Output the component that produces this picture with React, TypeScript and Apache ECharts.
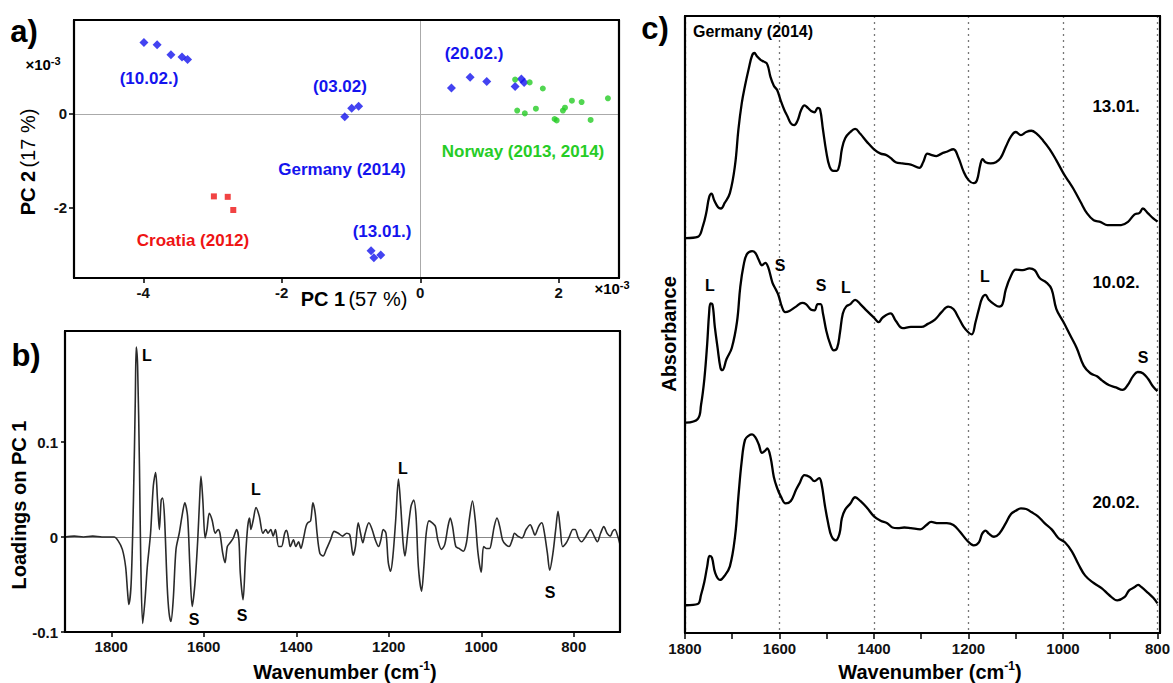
import React, { useEffect, useRef } from "react";
import * as echarts from "echarts";

// ---------- Panel a: PCA scores (x10^-3) ----------
const germanyPoints: number[][] = [
  [-3.99, 1.52], [-3.8, 1.47], [-3.6, 1.26], [-3.44, 1.21], [-3.36, 1.16],
  [-1.09, -0.06], [-0.99, 0.12], [-0.89, 0.16],
  [-0.71, -2.92], [-0.67, -3.07], [-0.57, -3.01],
  [0.45, 0.55], [0.72, 0.78], [0.96, 0.69], [1.37, 0.58], [1.46, 0.74], [1.5, 0.67],
];
const norwayPoints: number[][] = [
  [1.37, 0.73], [1.58, 0.67], [1.77, 0.54], [1.4, 0.07], [1.51, 0.01], [1.67, 0.11],
  [1.94, -0.11], [1.97, -0.14], [2.06, 0.07], [2.09, 0.13], [2.19, 0.28], [2.33, 0.25],
  [2.46, -0.13], [2.71, 0.33],
];
const croatiaPoints: number[][] = [
  [-2.98, -1.76], [-2.78, -1.77], [-2.7, -2.05],
];
const pcaXRange = [-5, 2.87];
const pcaYRange = [-3.5, 2];
const pcaXTicks = [-4, -2, 0, 2];
const pcaYTicks = [-2, 0];

// ---------- Panel b: loadings on PC 1 ----------
const loadingsPC1: number[][] = [
  [1900, 0.0], [1880, 0.001], [1860, 0.0], [1840, 0.001], [1820, 0.0], [1794, 0.0], [1785, -0.004],
  [1776, -0.013], [1769, -0.031], [1765, -0.056], [1762, -0.071], [1757, -0.049], [1752, 0.039],
  [1748, 0.145], [1746, 0.2], [1743, 0.18], [1739, 0.075], [1736, -0.031], [1732, -0.091],
  [1727, -0.066], [1722, -0.031], [1715, 0.004], [1709, 0.054], [1704, 0.068], [1700, 0.039],
  [1696, 0.008], [1692, 0.039], [1689, 0.041], [1685, 0.022], [1679, -0.052], [1675, -0.08],
  [1671, -0.089], [1666, -0.066], [1660, -0.013], [1653, 0.004], [1647, 0.022], [1641, 0.036],
  [1635, 0.022], [1630, -0.031], [1625, -0.073], [1619, -0.049], [1613, -0.003], [1609, 0.039],
  [1606, 0.064], [1602, 0.039], [1597, -0.001], [1593, 0.008], [1588, 0.025], [1582, 0.018],
  [1575, 0.004], [1569, 0.008], [1565, 0.004], [1559, -0.017], [1554, -0.027], [1549, -0.01],
  [1543, -0.006], [1536, -0.001], [1529, 0.008], [1524, -0.003], [1521, -0.038], [1515, -0.066],
  [1510, -0.024], [1505, 0.011], [1501, 0.02], [1498, 0.008], [1493, 0.018], [1487, 0.031],
  [1480, 0.022], [1472, 0.004], [1466, 0.008], [1461, 0.004], [1455, 0.008], [1450, 0.001],
  [1445, 0.008], [1438, -0.01], [1432, -0.01], [1425, 0.004], [1421, 0.007], [1416, -0.003],
  [1413, -0.01], [1406, -0.003], [1401, -0.01], [1395, -0.005], [1390, -0.012], [1385, -0.003],
  [1379, 0.011], [1375, 0.015], [1369, 0.017], [1364, 0.036], [1359, 0.025], [1355, 0.004],
  [1349, -0.017], [1342, -0.02], [1335, -0.013], [1326, -0.003], [1318, 0.006], [1309, 0.004],
  [1300, 0.001], [1291, 0.004], [1284, 0.002], [1277, -0.019], [1272, -0.01], [1266, 0.015],
  [1261, 0.004], [1256, -0.006], [1251, 0.004], [1243, 0.015], [1236, 0.008], [1229, -0.003],
  [1222, -0.01], [1217, -0.003], [1212, 0.008], [1206, 0.004], [1201, -0.027], [1196, -0.036],
  [1191, -0.02], [1185, 0.018], [1179, 0.061], [1174, 0.032], [1169, -0.006], [1165, -0.02],
  [1159, 0.004], [1152, 0.032], [1146, 0.039], [1141, 0.022], [1136, -0.031], [1129, -0.057],
  [1124, -0.031], [1119, 0.004], [1113, 0.017], [1106, 0.015], [1099, 0.011], [1094, -0.003],
  [1086, -0.013], [1079, -0.008], [1072, 0.011], [1067, 0.02], [1062, 0.011], [1055, -0.01],
  [1048, -0.012], [1039, -0.015], [1032, -0.006], [1026, 0.018], [1019, 0.038], [1013, 0.018],
  [1007, -0.017], [1000, -0.037], [995, -0.01], [989, -0.012], [982, -0.012], [977, -0.003],
  [972, 0.011], [966, 0.02], [960, 0.011], [954, -0.003], [947, -0.008], [940, -0.01],
  [933, -0.003], [928, 0.004], [921, 0.001], [912, -0.001], [903, 0.008], [894, 0.013],
  [889, 0.008], [884, 0.002], [876, 0.011], [869, 0.015], [864, 0.006], [857, -0.017],
  [852, -0.035], [845, -0.017], [839, 0.008], [834, 0.027], [829, 0.008], [824, -0.01],
  [816, -0.006], [809, 0.001], [802, 0.008], [797, 0.008], [790, -0.001], [783, -0.005],
  [776, -0.001], [770, 0.004], [764, 0.008], [756, 0.001], [749, -0.005], [742, 0.004],
  [735, 0.011], [728, 0.004], [721, 0.001], [716, 0.006], [711, 0.008], [705, 0.001], [700, -0.008],
];
const loadingXRange = [700, 1900];
const loadingYRange = [-0.1, 0.217];
const loadingXTicks = [800, 1000, 1200, 1400, 1600, 1800];
const loadingYTicks = [-0.1, 0, 0.1];

// ---------- Panel c: offset absorbance spectra (arb. units) ----------
const spectrum1301: number[][] = [
  [1798, 64.0], [1773, 64.2], [1762, 66.0], [1755, 68.1], [1749, 70.6], [1744, 71.2], [1738, 70.1],
  [1730, 69.0], [1724, 68.8], [1716, 69.7], [1705, 71.3], [1694, 75.9], [1687, 81.6], [1680, 85.8],
  [1673, 88.7], [1665, 91.5], [1658, 93.6], [1653, 94.0], [1648, 93.5], [1640, 92.9], [1633, 92.6],
  [1626, 92.2], [1619, 90.1], [1612, 88.7], [1605, 88.0], [1597, 86.2], [1590, 84.8], [1583, 83.7],
  [1576, 82.6], [1569, 82.3], [1562, 83.0], [1554, 84.8], [1547, 85.5], [1540, 85.1], [1533, 84.6],
  [1526, 84.4], [1519, 85.1], [1514, 84.8], [1508, 81.6], [1501, 78.0], [1494, 75.6], [1486, 74.9],
  [1479, 74.9], [1473, 75.9], [1468, 78.4], [1461, 80.2], [1450, 81.2], [1440, 81.7], [1429, 80.9],
  [1415, 79.6], [1400, 78.4], [1386, 77.7], [1375, 77.5], [1365, 77.0], [1354, 76.3], [1340, 76.1],
  [1322, 75.9], [1304, 75.4], [1296, 76.3], [1287, 77.7], [1279, 77.5], [1268, 77.3], [1257, 77.7],
  [1246, 78.0], [1232, 78.4], [1221, 77.0], [1211, 74.9], [1200, 73.4], [1189, 72.9], [1182, 73.4],
  [1175, 75.9], [1170, 76.8], [1164, 76.3], [1153, 76.1], [1142, 76.3], [1132, 77.0], [1121, 78.8],
  [1110, 80.5], [1100, 81.2], [1089, 80.7], [1078, 81.2], [1067, 81.4], [1057, 81.0], [1042, 79.8],
  [1028, 78.4], [1014, 76.6], [999, 74.5], [988, 73.2], [978, 72.0], [963, 69.9], [949, 68.0],
  [935, 66.9], [920, 66.6], [906, 66.1], [892, 66.1], [877, 66.1], [863, 66.6], [849, 67.8],
  [838, 68.1], [831, 68.8], [820, 68.0], [809, 67.2], [800, 66.7],
];
const spectrum1002: number[][] = [
  [1798, 34.1], [1773, 34.7], [1766, 37.0], [1759, 41.2], [1753, 46.9], [1749, 51.8], [1746, 53.4],
  [1742, 53.3], [1737, 49.7], [1731, 46.2], [1725, 43.0], [1721, 42.6], [1712, 44.4], [1701, 46.2],
  [1690, 50.4], [1683, 56.1], [1676, 59.6], [1669, 61.4], [1658, 61.9], [1651, 61.6], [1644, 60.5],
  [1637, 59.6], [1630, 60.0], [1624, 59.3], [1615, 56.8], [1608, 55.7], [1602, 54.7], [1595, 52.9],
  [1588, 52.0], [1579, 52.2], [1565, 52.9], [1552, 53.5], [1544, 53.3], [1533, 52.4], [1526, 52.3],
  [1519, 53.3], [1513, 53.3], [1508, 51.8], [1501, 49.0], [1493, 46.9], [1485, 45.8], [1478, 46.2],
  [1472, 48.7], [1466, 51.8], [1459, 52.9], [1450, 53.3], [1440, 54.0], [1429, 53.3], [1415, 52.2],
  [1400, 51.1], [1390, 50.4], [1382, 51.1], [1365, 51.8], [1354, 50.6], [1339, 49.4], [1322, 49.6],
  [1300, 49.6], [1286, 50.1], [1271, 50.8], [1257, 52.0], [1243, 52.9], [1232, 52.5], [1221, 51.1],
  [1211, 49.7], [1200, 48.7], [1193, 48.4], [1185, 50.4], [1178, 52.5], [1171, 54.3], [1164, 54.8],
  [1157, 54.0], [1146, 53.3], [1135, 52.9], [1128, 53.3], [1121, 55.7], [1110, 57.9], [1100, 58.9],
  [1085, 58.8], [1071, 59.1], [1060, 58.8], [1049, 57.5], [1035, 56.8], [1024, 55.7], [1014, 52.5],
  [999, 50.4], [985, 48.3], [971, 46.2], [956, 43.3], [942, 42.1], [928, 41.6], [917, 40.9],
  [903, 40.2], [888, 39.8], [874, 39.4], [863, 40.2], [852, 41.6], [842, 42.3], [831, 42.1],
  [820, 41.2], [809, 39.9], [800, 39.2],
];
const spectrum2002: number[][] = [
  [1798, 4.5], [1773, 4.7], [1766, 6.2], [1759, 8.3], [1753, 10.8], [1748, 12.5], [1743, 12.2],
  [1736, 9.7], [1726, 8.6], [1717, 9.2], [1705, 10.8], [1694, 15.7], [1687, 22.1], [1680, 27.8],
  [1673, 31.3], [1665, 32.0], [1658, 32.2], [1651, 31.7], [1644, 30.6], [1637, 29.2], [1631, 29.5],
  [1626, 29.9], [1619, 28.5], [1612, 25.3], [1605, 23.5], [1597, 22.1], [1587, 21.0], [1576, 21.4],
  [1565, 23.2], [1558, 24.2], [1547, 25.6], [1536, 25.3], [1526, 24.6], [1516, 25.1], [1511, 24.2],
  [1504, 20.7], [1497, 17.8], [1490, 15.7], [1481, 15.0], [1473, 16.1], [1468, 18.6], [1461, 20.0],
  [1450, 21.0], [1440, 22.0], [1429, 21.4], [1415, 20.3], [1400, 18.9], [1386, 18.2], [1372, 17.8],
  [1361, 17.1], [1350, 17.0], [1336, 17.1], [1322, 17.0], [1302, 16.8], [1289, 17.5], [1279, 18.0],
  [1264, 17.8], [1246, 17.8], [1232, 17.5], [1218, 16.4], [1203, 15.0], [1189, 14.2], [1178, 14.7],
  [1171, 16.1], [1164, 16.6], [1157, 16.1], [1146, 15.6], [1135, 16.1], [1121, 17.8], [1110, 19.3],
  [1100, 19.8], [1089, 20.2], [1078, 20.1], [1067, 19.6], [1053, 18.9], [1039, 17.8], [1024, 16.8],
  [1010, 15.4], [996, 14.7], [981, 13.2], [967, 11.1], [953, 9.3], [935, 8.1], [917, 7.2],
  [903, 6.2], [885, 5.3], [870, 5.8], [860, 6.9], [849, 7.4], [841, 7.8], [835, 7.5], [820, 6.5],
  [809, 5.7], [800, 4.8],
];
const specXRange = [800, 1800];
const specYRange = [0, 100];

const FONT = "Liberation Sans, Arial, sans-serif";
const BLUE = "#1414ee";
const GREEN = "#26cc26";
const RED = "#ee1414";
const INK = "#000";

// plot frames: left, top, width, height
const frameA = [74, 20, 545, 258];
const frameB = [65, 331, 555, 301];
const frameC = [685, 16, 475, 617];

function txt(x: number, y: number, text: string, size: number, color = INK, weight = "bold", align = "center") {
  return {
    type: "text", x, y, z: 20,
    style: { text, fill: color, fontSize: size, fontWeight: weight, fontFamily: FONT, align, verticalAlign: "middle" },
  };
}

function richTxt(x: number, y: number, text: string, rich: any, rotation = 0) {
  return {
    type: "text", x, y, rotation, z: 20,
    style: { text, rich, fill: INK, fontFamily: FONT, align: "center", verticalAlign: "middle" },
  };
}

// four separate line elements per frame
function frameLines(f: number[]) {
  const [l, t, w, h] = f;
  const r = l + w;
  const b = t + h;
  const seg = (x1: number, y1: number, x2: number, y2: number) => ({
    type: "line",
    z: 30,
    shape: { x1, y1, x2, y2 },
    style: { stroke: "#000", lineWidth: 2.2 },
  });
  return [seg(l - 1, t, r + 1, t), seg(r, t, r, b), seg(r + 1, b, l - 1, b), seg(l, b, l, t)];
}

const gridOf = (f: number[]) => ({ left: f[0], top: f[1], width: f[2], height: f[3] });

const axisNameRich = {
  b: { fontSize: 20, fontWeight: "bold", fontFamily: FONT, color: INK, lineHeight: 24 },
  n: { fontSize: 20, fontWeight: "normal", fontFamily: FONT, color: INK, lineHeight: 24 },
  s: { fontSize: 12, fontWeight: "bold", fontFamily: FONT, color: INK, lineHeight: 10, verticalAlign: "top" },
};
const expRich = {
  n: { fontSize: 15, fontWeight: "bold", fontFamily: FONT, color: INK, lineHeight: 18 },
  s: { fontSize: 11, fontWeight: "bold", fontFamily: FONT, color: INK, lineHeight: 8, verticalAlign: "top" },
};

const plain = (v: number) => (Math.abs(v) < 1e-9 ? "0" : String(v));
const tickLabel = () => ({ color: "#111", fontWeight: "bold", fontSize: 15, fontFamily: FONT, margin: 7, formatter: plain });
const tickStyle = () => ({ color: INK, width: 1.5 });
const frameLine = () => ({ show: true, onZero: false, lineStyle: { color: INK, width: 2 } });

export default function App() {
  const ref = useRef<HTMLDivElement>(null);
  useEffect(() => {
    document.body.style.margin = "0";
    const chart = echarts.init(ref.current!, null, { renderer: "svg" });
    const option: any = {
      animation: false,
      grid: [gridOf(frameA), gridOf(frameB), gridOf(frameC)],
      xAxis: [
        {
          gridIndex: 0, type: "value", min: pcaXRange[0], max: pcaXRange[1],
          axisLine: frameLine(),
          splitLine: { show: false },
          axisTick: { show: true, customValues: pcaXTicks, length: 5, lineStyle: tickStyle() },
          axisLabel: { ...tickLabel(), customValues: pcaXTicks },
        },
        {
          gridIndex: 1, type: "value", min: loadingXRange[0], max: loadingXRange[1], inverse: true,
          axisLine: frameLine(),
          splitLine: { show: false },
          axisTick: { show: true, customValues: loadingXTicks, length: 5, lineStyle: tickStyle() },
          axisLabel: { ...tickLabel(), customValues: loadingXTicks },
        },
        {
          gridIndex: 2, type: "value", min: specXRange[0], max: specXRange[1], interval: 200, inverse: true,
          axisLine: frameLine(),
          splitLine: { show: true, lineStyle: { type: [2, 4], color: "#777", width: 1.3 } },
          axisTick: { show: true, length: 6, lineStyle: tickStyle() },
          minorTick: { show: true, splitNumber: 2, length: 6, lineStyle: tickStyle() },
          axisLabel: { ...tickLabel(), showMinLabel: true, showMaxLabel: true, margin: 8 },
        },
      ],
      yAxis: [
        {
          gridIndex: 0, type: "value", min: pcaYRange[0], max: pcaYRange[1],
          axisLine: frameLine(),
          splitLine: { show: false },
          axisTick: { show: true, customValues: pcaYTicks, length: 5, lineStyle: tickStyle() },
          axisLabel: { ...tickLabel(), customValues: pcaYTicks },
        },
        {
          gridIndex: 1, type: "value", min: loadingYRange[0], max: loadingYRange[1],
          axisLine: frameLine(),
          splitLine: { show: false },
          axisTick: { show: true, customValues: loadingYTicks, length: 4, lineStyle: tickStyle() },
          axisLabel: { ...tickLabel(), customValues: loadingYTicks },
        },
        {
          gridIndex: 2, type: "value", min: specYRange[0], max: specYRange[1],
          axisLine: frameLine(),
          axisTick: { show: false },
          axisLabel: { show: false },
          splitLine: { show: false },
        },
      ],
      series: [
        {
          type: "scatter", xAxisIndex: 0, yAxisIndex: 0, data: germanyPoints,
          symbol: "diamond", symbolSize: 9, itemStyle: { color: BLUE }, z: 5,
          markLine: {
            silent: true, symbol: ["none", "none"], label: { show: false },
            lineStyle: { color: "#aaa", width: 1, type: "solid" },
            data: [{ xAxis: 0 }, { yAxis: 0 }],
          },
        },
        {
          type: "scatter", xAxisIndex: 0, yAxisIndex: 0, data: norwayPoints,
          symbol: "circle", symbolSize: 6, itemStyle: { color: GREEN }, z: 5,
        },
        {
          type: "scatter", xAxisIndex: 0, yAxisIndex: 0, data: croatiaPoints,
          symbol: "rect", symbolSize: 6, itemStyle: { color: RED }, z: 5,
        },
        {
          type: "line", xAxisIndex: 1, yAxisIndex: 1, data: loadingsPC1,
          showSymbol: false, smooth: 0.3, lineStyle: { color: "#2a2a2a", width: 1.6 }, z: 5,
          markLine: {
            silent: true, symbol: ["none", "none"], label: { show: false },
            lineStyle: { color: "#888", width: 1.2, type: "solid" },
            data: [{ yAxis: 0 }],
          },
        },
        {
          type: "line", xAxisIndex: 2, yAxisIndex: 2, data: spectrum1301,
          showSymbol: false, smooth: 0.4, lineStyle: { color: "#000", width: 2.3 }, z: 5,
        },
        {
          type: "line", xAxisIndex: 2, yAxisIndex: 2, data: spectrum1002,
          showSymbol: false, smooth: 0.4, lineStyle: { color: "#000", width: 2.3 }, z: 5,
        },
        {
          type: "line", xAxisIndex: 2, yAxisIndex: 2, data: spectrum2002,
          showSymbol: false, smooth: 0.4, lineStyle: { color: "#000", width: 2.3 }, z: 5,
        },
      ],
      graphic: [
        ...frameLines(frameA),
        ...frameLines(frameB),
        ...frameLines(frameC),
        txt(24, 31, "a)", 31),
        txt(26, 355, "b)", 31),
        txt(655, 28, "c)", 31),
        txt(149, 78, "(10.02.)", 17, BLUE),
        txt(340, 86, "(03.02)", 17, BLUE),
        txt(474, 53, "(20.02.)", 17, BLUE),
        txt(342, 169, "Germany (2014)", 17, BLUE),
        txt(382, 231, "(13.01.)", 17, BLUE),
        txt(523, 151, "Norway (2013, 2014)", 17, GREEN),
        txt(193, 240, "Croatia (2012)", 17, RED),
        richTxt(354, 299, "{b|PC 1} {n|(57 %)}", axisNameRich),
        richTxt(28, 162, "{b|PC 2} {n|(17 %)}", axisNameRich, Math.PI / 2),
        richTxt(43, 64, "{n|×10}{s|-3}", expRich),
        richTxt(612, 288, "{n|×10}{s|-3}", expRich),
        txt(147, 355, "L", 16),
        txt(194, 619, "S", 16),
        txt(242, 615, "S", 16),
        txt(256, 489, "L", 16),
        txt(403, 468, "L", 16),
        txt(550, 592, "S", 16),
        richTxt(19, 505, "{b|Loadings on PC 1}", axisNameRich, Math.PI / 2),
        richTxt(345, 672, "{b|Wavenumber (cm}{s|-1}{b|)}", axisNameRich),
        txt(693, 31, "Germany (2014)", 16, INK, "bold", "left"),
        txt(1116, 106, "13.01.", 17),
        txt(1116, 282, "10.02.", 17),
        txt(1116, 502, "20.02.", 17),
        txt(710, 285, "L", 16),
        txt(780, 265, "S", 16),
        txt(821, 285, "S", 16),
        txt(846, 287, "L", 16),
        txt(985, 276, "L", 16),
        txt(1143, 357, "S", 16),
        richTxt(669, 334, "{b|Absorbance}", axisNameRich, Math.PI / 2),
        richTxt(930, 672, "{b|Wavenumber (cm}{s|-1}{b|)}", axisNameRich),
      ],
    };
    chart.setOption(option);
    return () => chart.dispose();
  }, []);
  return <div ref={ref} style={{ width: 1173, height: 683 }} />;
}
